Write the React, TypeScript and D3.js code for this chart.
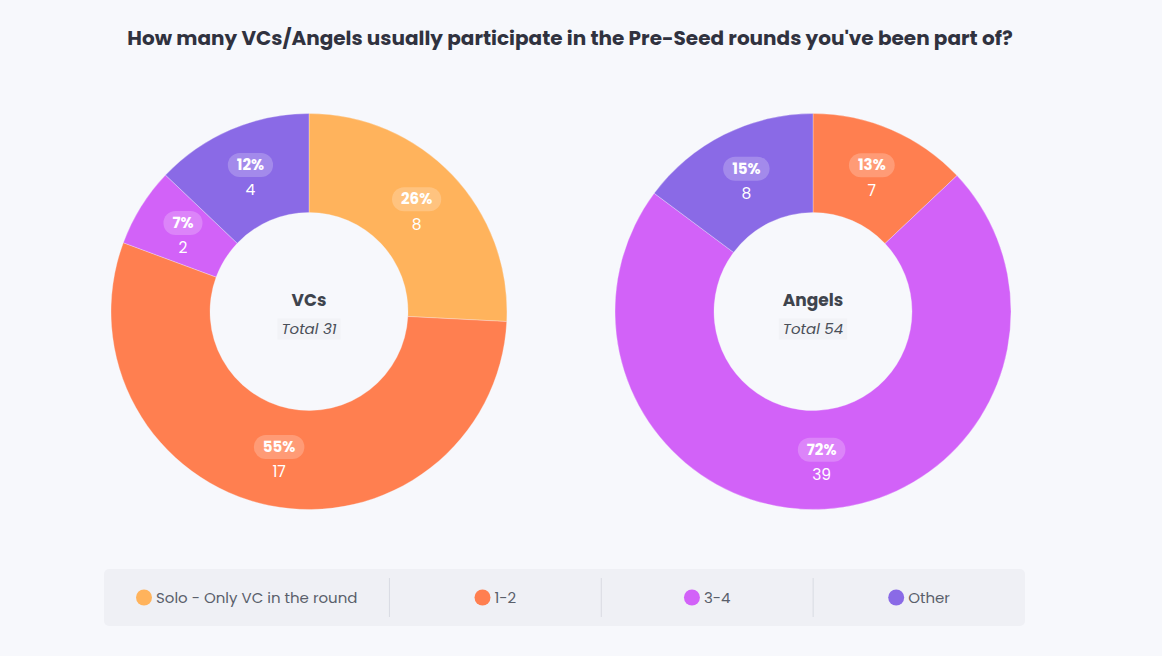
import React, { useEffect, useRef } from "react";
import * as d3 from "d3";

// chart data
const title = "How many VCs/Angels usually participate in the Pre-Seed rounds you've been part of?";
const categories = ["Solo - Only VC in the round", "1-2", "3-4", "Other"];
const colors = ["#FFB35C", "#FF7F50", "#D262F8", "#8A6AE6"];
const donutNames = ["VCs", "Angels"];
const vcValues = [8, 17, 2, 4];
const vcPercents = [26, 55, 7, 12];
const angelValues = [0, 7, 39, 8];
const angelPercents = [0, 13, 72, 15];

interface Slice {
  category: string;
  color: string;
  value: number;
  percent: number;
}

const width = 1162;
const height = 656;
const font = "Poppins, 'Open Sans', 'Noto Sans', sans-serif";

const App: React.FC = () => {
  const ref = useRef<SVGSVGElement>(null);

  useEffect(() => {
    document.body.style.margin = "0";
    document.body.style.background = "#F7F8FC";
    draw();
  }, []);

  const draw = () => {
    const svg = d3.select(ref.current);
    svg.selectAll("*").remove();

    svg.append("rect").attr("width", width).attr("height", height).attr("fill", "#F7F8FC");

    svg
      .append("text")
      .attr("x", 570)
      .attr("y", 45)
      .attr("text-anchor", "middle")
      .attr("font-family", font)
      .attr("font-weight", 700)
      .attr("font-size", 20)
      .attr("fill", "#30323F")
      .text(title);

    const xScale = d3.scalePoint<string>().domain(donutNames).range([309, 813]);
    const cy = 311.5;
    const outerR = 198;
    const innerR = 99;

    const arc = d3.arc<d3.PieArcDatum<Slice>>().innerRadius(innerR).outerRadius(outerR);
    const pie = d3
      .pie<Slice>()
      .sort(null)
      .value((d) => d.value);

    const series = [
      { name: donutNames[0], values: vcValues, percents: vcPercents },
      { name: donutNames[1], values: angelValues, percents: angelPercents },
    ];

    series.forEach((s) => {
      const data: Slice[] = categories.map((c, i) => ({
        category: c,
        color: colors[i],
        value: s.values[i],
        percent: s.percents[i],
      }));
      const total = d3.sum(s.values);
      const g = svg.append("g").attr("transform", `translate(${xScale(s.name)},${cy})`);
      const arcs = pie(data).filter((d) => d.data.value > 0);

      g.selectAll("path.slice")
        .data(arcs)
        .join("path")
        .attr("class", "slice")
        .attr("d", arc)
        .attr("fill", (d) => d.data.color)
        .attr("stroke", "#F7F8FC")
        .attr("stroke-opacity", 0.5)
        .attr("stroke-width", 0.6);

      // slice labels: percent pill + count
      arcs.forEach((d) => {
        const [lx, ly] = arc.centroid(d);
        const lg = g.append("g").attr("transform", `translate(${lx},${ly + 2})`);
        const pill = lg.append("rect");
        const pct = lg
          .append("text")
          .attr("y", -12)
          .attr("dy", "0.35em")
          .attr("text-anchor", "middle")
          .attr("font-family", font)
          .attr("font-weight", 700)
          .attr("font-size", 15)
          .attr("fill", "#fff")
          .text(`${d.data.percent}%`);
        const w = (pct.node() as SVGTextElement).getComputedTextLength() + 18;
        pill
          .attr("x", -w / 2)
          .attr("y", -24)
          .attr("width", w)
          .attr("height", 24)
          .attr("rx", 12)
          .attr("fill", "#fff")
          .attr("fill-opacity", 0.22);
        lg.append("text")
          .attr("y", 13)
          .attr("dy", "0.35em")
          .attr("text-anchor", "middle")
          .attr("font-family", font)
          .attr("font-size", 15.5)
          .attr("fill", "#fff")
          .text(d.data.value);
      });

      // centre
      g.append("text")
        .attr("y", -11)
        .attr("dy", "0.35em")
        .attr("text-anchor", "middle")
        .attr("font-family", font)
        .attr("font-weight", 700)
        .attr("font-size", 17)
        .attr("fill", "#3F444D")
        .text(s.name);
      const totBg = g.append("rect");
      const tot = g
        .append("text")
        .attr("y", 17)
        .attr("dy", "0.35em")
        .attr("text-anchor", "middle")
        .attr("font-family", font)
        .attr("font-style", "italic")
        .attr("font-size", 15)
        .attr("fill", "#4A4F58")
        .text(`Total ${total}`);
      const tw = (tot.node() as SVGTextElement).getComputedTextLength() + 8;
      totBg
        .attr("x", -tw / 2)
        .attr("y", 7)
        .attr("width", tw)
        .attr("height", 21)
        .attr("fill", "#EEF0F4")
        .attr("fill-opacity", 0.6);
    });

    // legend
    const lx0 = 104;
    const lx1 = 1025;
    const ly = 569;
    const lh = 57;
    svg
      .append("rect")
      .attr("x", lx0)
      .attr("y", ly)
      .attr("width", lx1 - lx0)
      .attr("height", lh)
      .attr("rx", 5)
      .attr("fill", "#EFF0F5");

    const lg = svg.append("g");
    const items = categories.map((c, i) => {
      const t = lg
        .append("text")
        .attr("font-family", font)
        .attr("font-size", 15)
        .attr("fill", "#5A5F6B")
        .attr("dy", "0.35em")
        .attr("y", ly + lh / 2)
        .text(c);
      const tw = (t.node() as SVGTextElement).getComputedTextLength();
      return { t, tw, w: tw + 20, color: colors[i] };
    });
    const pad = 64;
    const totalW = lx1 - lx0;
    const share = totalW / items.length;
    const big = items.map((it) => it.w + pad > share);
    const fixed = d3.sum(items.filter((_, i) => big[i]), (it) => it.w + pad);
    const rest = (totalW - fixed) / items.filter((_, i) => !big[i]).length;
    let x = lx0;
    items.forEach((it, i) => {
      const sw = big[i] ? it.w + pad : rest;
      const start = x + (sw - it.w) / 2;
      lg.append("circle")
        .attr("cx", start + 8)
        .attr("cy", ly + lh / 2)
        .attr("r", 8)
        .attr("fill", it.color);
      it.t.attr("x", start + 20);
      x += sw;
      if (i < items.length - 1) {
        lg.append("line")
          .attr("x1", x)
          .attr("x2", x)
          .attr("y1", ly + 9)
          .attr("y2", ly + lh - 9)
          .attr("stroke", "#D9DBE2")
          .attr("stroke-width", 1);
      }
    });
  };

  return <svg ref={ref} width={width} height={height} style={{ display: "block" }} />;
};

export default App;
